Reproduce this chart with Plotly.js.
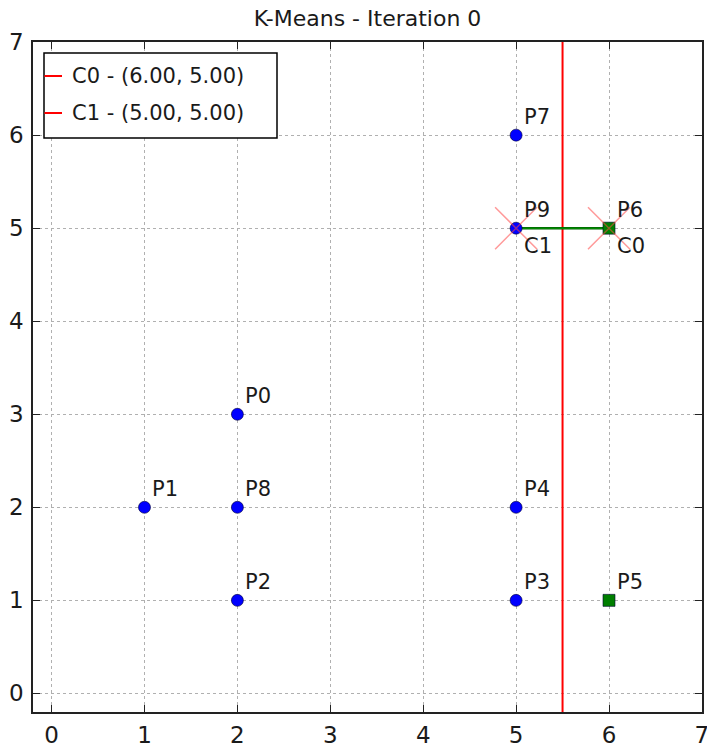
<!DOCTYPE html>
<html>
<head>
<meta charset="utf-8">
<script src="https://cdn.plot.ly/plotly-3.0.1.min.js"></script>
<style>html,body{margin:0;padding:0;background:#fff;}#chart{width:707px;height:751px;}</style>
</head>
<body>
<div id="chart"></div>
<script>
// ---- data ----
var pointNames = ["P0","P1","P2","P3","P4","P5","P6","P7","P8","P9"];
var pointX = [2,1,2,5,5,6,6,5,2,5];
var pointY = [3,2,1,1,2,1,5,6,2,5];
var pointCluster = [1,1,1,1,1,0,0,1,1,1];
var centroidNames = ["C0","C1"];
var centroidX = [6,5];
var centroidY = [5,5];
var tickVals = [0,1,2,3,4,5,6,7];
var axisRange = [-0.2,7.001];
var titleText = "K-Means - Iteration 0";

// ---- layout helpers (pixel geometry) ----
var W = 707, H = 751;
var M = {l:33, r:5, t:42, b:39};
var PW = W - M.l - M.r, PH = H - M.t - M.b;
function pxX(X){ return (X - M.l)/PW; }
function pxY(Y){ return 1 - (Y - M.t)/PH; }
var FONT = "DejaVu Sans";
var TXT = "#1a1a1a";

var traces = [];
// bisector between the two centroids (vertical since same y)
var bx = (centroidX[0] + centroidX[1]) / 2;
traces.push({x:[bx,bx], y:axisRange, mode:"lines", line:{color:"#ff0000", width:2}, hoverinfo:"skip", showlegend:false});
// green line between centroids
traces.push({x:[centroidX[1],centroidX[0]], y:[centroidY[1],centroidY[0]], mode:"lines", line:{color:"#005a00", width:2.5}, hoverinfo:"skip", showlegend:false});
traces.push({x:[centroidX[1],centroidX[0]], y:[centroidY[1],centroidY[0]], mode:"lines", line:{color:"#00a000", width:1}, hoverinfo:"skip", showlegend:false});

// points per cluster
var styles = {
  0:{symbol:"square", color:"#007f00"},
  1:{symbol:"circle", color:"#0000ff"}
};
[0,1].forEach(function(c){
  var xs=[], ys=[];
  for (var i=0;i<pointX.length;i++){ if(pointCluster[i]===c){xs.push(pointX[i]); ys.push(pointY[i]);} }
  traces.push({x:xs, y:ys, mode:"markers", marker:{symbol:styles[c].symbol, size:12, color:styles[c].color, line:{color:"#000033", width:0.6}}, hoverinfo:"skip", showlegend:false});
});
// centroid x markers
traces.push({x:centroidX, y:centroidY, mode:"markers", marker:{symbol:"x-thin", size:42, color:"rgba(255,0,0,0.5)", line:{color:"rgba(255,70,70,0.55)", width:1.5}}, hoverinfo:"skip", showlegend:false});

var annotations = [];
for (var i=0;i<pointNames.length;i++){
  annotations.push({x:pointX[i], y:pointY[i], xref:"x", yref:"y", text:pointNames[i], showarrow:false,
    xanchor:"left", yanchor:"bottom", xshift:6, yshift:4, font:{family:FONT, size:21, color:TXT}});
}
for (var j=0;j<centroidNames.length;j++){
  annotations.push({x:centroidX[j], y:centroidY[j], xref:"x", yref:"y", text:centroidNames[j], showarrow:false,
    xanchor:"left", yanchor:"top", xshift:6, yshift:-4, font:{family:FONT, size:21, color:TXT}});
}
// manual legend
var shapes = [];
shapes.push({type:"rect", xref:"paper", yref:"paper", x0:pxX(44), x1:pxX(277), y0:pxY(138), y1:pxY(53), line:{color:"#000", width:1.5}, fillcolor:"#fff", layer:"above"});
var rowsY = [76, 113];
for (var k=0;k<centroidNames.length;k++){
  shapes.push({type:"line", xref:"paper", yref:"paper", x0:pxX(44.5), x1:pxX(62), y0:pxY(rowsY[k]), y1:pxY(rowsY[k]), line:{color:"#ff0000", width:2}, layer:"above"});
  annotations.push({x:pxX(70), y:pxY(rowsY[k]), xref:"paper", yref:"paper", xanchor:"left", yanchor:"middle", showarrow:false,
    text: centroidNames[k] + " - (" + centroidX[k].toFixed(2) + ", " + centroidY[k].toFixed(2) + ")",
    font:{family:FONT, size:21, color:TXT}});
}

var axisCommon = {
  range:axisRange, tickvals:tickVals, ticktext:tickVals.map(String),
  showgrid:true, gridcolor:"#b0b0b0", griddash:"3px,3px", gridwidth:1,
  zeroline:false, showline:true, mirror:"ticks", linecolor:"#222", linewidth:1.8,
  ticks:"inside", ticklen:7, tickwidth:1, tickcolor:"#222",
  tickfont:{family:FONT, size:23, color:TXT}, fixedrange:true, ticklabeloverflow:"allow"
};
var layout = {
  width:W, height:H, margin:M, paper_bgcolor:"#fff", plot_bgcolor:"#fff",
  title:{text:titleText, font:{family:FONT, size:22, color:TXT}, x:0.5, xref:"paper", xanchor:"center", y:1-18/H, yref:"container", yanchor:"middle"},
  xaxis:Object.assign({}, axisCommon, {ticklabelstandoff:2}),
  yaxis:Object.assign({}, axisCommon, {ticklabelstandoff:3}),
  showlegend:false, shapes:shapes, annotations:annotations
};
Plotly.newPlot("chart", traces, layout, {displayModeBar:false, staticPlot:true});
</script>
</body>
</html>
